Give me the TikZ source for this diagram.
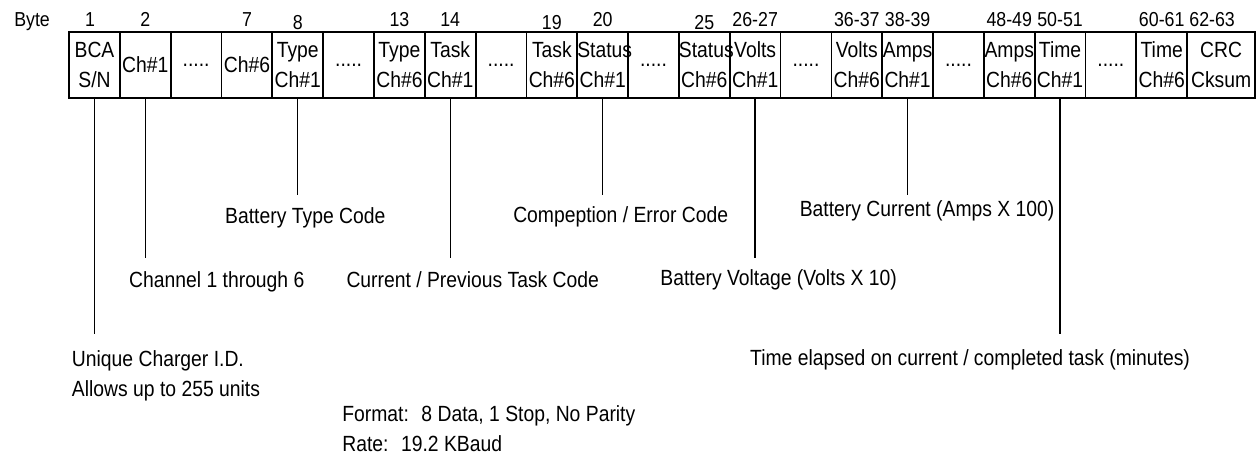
\documentclass[tikz,border=0pt]{standalone}
\usepackage{fontspec}
\setmainfont[FakeStretch=0.88]{Liberation Sans}
\usetikzlibrary{positioning}

\begin{document}
\begin{tikzpicture}[
    cell/.style={rectangle, draw, line width=1pt, outer sep=0pt, inner sep=0pt, text width=1.0164cm, minimum height=1.32cm, align=center},
    bytenum/.style={inner sep=0pt, font=\fontsize{11.5}{13}\selectfont},
    note/.style={inner sep=0pt, align=left},
    lead/.style={line width=0.8pt},
    font=\fontsize{12.5}{17}\selectfont
]
    \useasboundingbox (-1.89,1.3) rectangle (23.23,-7.88);

    % Frame fields
    \node[cell] (bca) at (0,0) {BCA\\S/N};
    \node[cell, right=0cm of bca] (ch1) {Ch\#1};
    \node[cell, right=0cm of ch1] (chdots) {.....};
    \node[cell, right=0cm of chdots] (ch6) {Ch\#6};
    \node[cell, right=0cm of ch6] (type1) {Type\\Ch\#1};
    \node[cell, right=0cm of type1] (typedots) {.....};
    \node[cell, right=0cm of typedots] (type6) {Type\\Ch\#6};
    \node[cell, right=0cm of type6] (task1) {Task\\Ch\#1};
    \node[cell, right=0cm of task1] (taskdots) {.....};
    \node[cell, right=0cm of taskdots] (task6) {Task\\Ch\#6};
    \node[cell, right=0cm of task6] (stat1) {Status\\Ch\#1};
    \node[cell, right=0cm of stat1] (statdots) {.....};
    \node[cell, right=0cm of statdots] (stat6) {Status\\Ch\#6};
    \node[cell, right=0cm of stat6] (volt1) {Volts\\Ch\#1};
    \node[cell, right=0cm of volt1] (voltdots) {.....};
    \node[cell, right=0cm of voltdots] (volt6) {Volts\\Ch\#6};
    \node[cell, right=0cm of volt6] (amp1) {Amps\\Ch\#1};
    \node[cell, right=0cm of amp1] (ampdots) {.....};
    \node[cell, right=0cm of ampdots] (amp6) {Amps\\Ch\#6};
    \node[cell, right=0cm of amp6] (time1) {Time\\Ch\#1};
    \node[cell, right=0cm of time1] (timedots) {.....};
    \node[cell, right=0cm of timedots] (time6) {Time\\Ch\#6};
    \node[cell, right=0cm of time6, text width=1.36cm] (crc) {CRC\\Cksum};

    % Byte numbers
    \node[bytenum, above=0.1cm of bca, xshift=-0.09cm] (b1) {1};
    \node[bytenum, anchor=base east] (byte) at ([xshift=-0.69cm]b1.base west) {Byte};
    \node[bytenum, above=0.1cm of ch1] (b2) {2};
    \node[bytenum, above=0.1cm of ch6] (b7) {7};
    \node[bytenum, above=0.04cm of type1] (b8) {8};
    \node[bytenum, above=0.1cm of type6] (b13) {13};
    \node[bytenum, above=0.1cm of task1] (b14) {14};
    \node[bytenum, above=0.04cm of task6] (b19) {19};
    \node[bytenum, above=0.1cm of stat1] (b20) {20};
    \node[bytenum, above=0.04cm of stat6] (b25) {25};
    \node[bytenum, above=0.1cm of volt1] (b26) {26-27};
    \node[bytenum, above=0.1cm of volt6] (b36) {36-37};
    \node[bytenum, above=0.1cm of amp1] (b38) {38-39};
    \node[bytenum, above=0.1cm of amp6] (b48) {48-49};
    \node[bytenum, above=0.1cm of time1] (b50) {50-51};
    \node[bytenum, above=0.1cm of time6] (b60) {60-61};
    \node[bytenum, above=0.1cm of crc, xshift=-0.18cm] (b62) {62-63};

    % Leader ends
    \coordinate[below=4.72cm of bca.south] (bcaend);
    \coordinate[below=3.2cm of ch1.south] (chend);
    \coordinate[below=1.94cm of type1.south] (typeend);
    \coordinate[below=3.2cm of task1.south] (taskend);
    \coordinate[below=1.94cm of stat1.south] (statend);
    \coordinate[below=3.2cm of volt1.south] (voltend);
    \coordinate[below=1.94cm of amp1.south] (ampend);
    \coordinate[below=4.72cm of time1.south] (timeend);

    % Descriptions
    \node[note, below=0.32cm of bcaend, xshift=1.43cm] (bcacode) {Unique Charger I.D.\\Allows up to 255 units};
    \node[note, below=0.26cm of chend, xshift=1.43cm] (chcode) {Channel 1 through 6};
    \node[note, below=0.24cm of typeend, xshift=0.15cm] (typecode) {Battery Type Code};
    \node[note, below=0.26cm of taskend, xshift=0.45cm] (taskcode) {Current / Previous Task Code};
    \node[note, below=0.22cm of statend, xshift=0.36cm] (statcode) {Compeption / Error Code};
    \node[note, below=0.22cm of voltend, xshift=0.47cm] (voltcode) {Battery Voltage (Volts X 10)};
    \node[note, below=0.1cm of ampend, xshift=0.39cm] (ampcode) {Battery Current (Amps X 100)};
    \node[note, below=0.3cm of timeend, xshift=-1.8cm] (timecode) {Time elapsed on current / completed task (minutes)};
    \node[note, anchor=north west] (format) at (4.95,-6.8) {Format:~ 8 Data, 1 Stop, No Parity\\Rate:~ 19.2 KBaud};

    % Leaders
    \draw[lead] (bca.south) -- (bcaend);
    \draw[lead] (ch1.south) -- (chend);
    \draw[lead] (type1.south) -- (typeend);
    \draw[lead] (task1.south) -- (taskend);
    \draw[lead] (stat1.south) -- (statend);
    \draw[lead] (volt1.south) -- (voltend);
    \draw[lead] (amp1.south) -- (ampend);
    \draw[lead] (time1.south) -- (timeend);

\end{tikzpicture}
\end{document}
